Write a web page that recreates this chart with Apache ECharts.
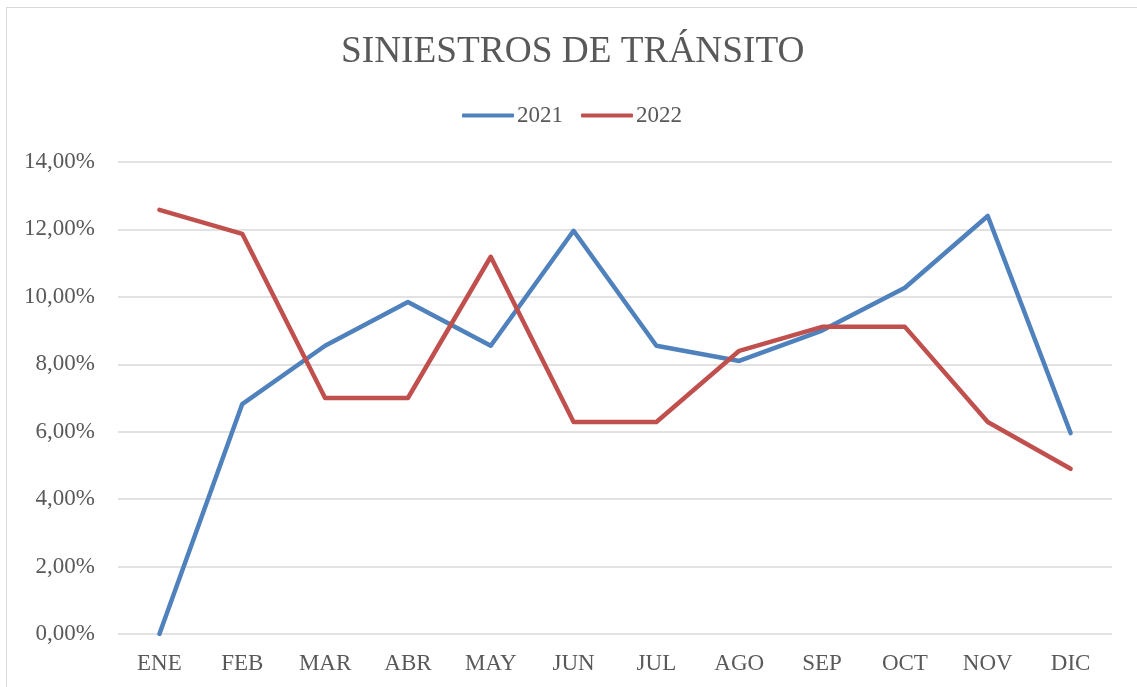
<!DOCTYPE html>
<html>
<head>
<meta charset="utf-8">
<script src="https://cdn.jsdelivr.net/npm/echarts@6/dist/echarts.min.js"></script>
<style>
  html, body { margin: 0; padding: 0; background: #fff; }
  #frame { position: absolute; left: 6px; top: 7px; width: 1140px; height: 690px; border: 1px solid #d9d9d9; box-sizing: border-box; }
  #chart { position: absolute; left: 0; top: 0; width: 1137px; height: 687px; }
</style>
</head>
<body>
<div id="frame"></div>
<div id="chart"></div>
<script>
// month labels
const months = ['ENE', 'FEB', 'MAR', 'ABR', 'MAY', 'JUN', 'JUL', 'AGO', 'SEP', 'OCT', 'NOV', 'DIC'];
// share of the yearly total, percent
const values2021 = [0.0, 6.82, 8.55, 9.85, 8.55, 11.96, 8.55, 8.1, 9.0, 10.27, 12.4, 5.96];
const values2022 = [12.58, 11.87, 7.0, 7.0, 11.19, 6.29, 6.29, 8.4, 9.11, 9.11, 6.29, 4.9];

const font = '"Liberation Serif", "Times New Roman", serif';
const textColor = '#595959';

const chart = echarts.init(document.getElementById('chart'));

const option = {
    animation: false,
    title: {
        text: 'SINIESTROS DE TRÁNSITO',
        left: 336,
        top: 29,
        textStyle: { fontFamily: font, fontSize: 37.3, fontWeight: 'normal', color: textColor }
    },
    legend: {
        top: 99,
        left: 457,
        itemWidth: 52,
        itemHeight: 4,
        itemGap: 18,
        icon: 'roundRect',
        textStyle: { fontFamily: font, fontSize: 23, color: textColor, padding: [0, 0, 0, -2] },
        data: ['2021', '2022']
    },
    grid: { left: 118, right: 25, top: 162, bottom: 53 },
    xAxis: {
        type: 'category',
        data: months,
        boundaryGap: true,
        axisLine: { show: false },
        axisTick: { show: false },
        axisLabel: { fontFamily: font, fontSize: 23, color: textColor, margin: 18 }
    },
    yAxis: {
        type: 'value',
        min: 0,
        max: 14,
        interval: 2,
        axisLine: { show: false },
        axisTick: { show: false },
        splitLine: { lineStyle: { color: '#d9d9d9', width: 1.5 } },
        axisLabel: {
            fontFamily: font, fontSize: 23, color: textColor, margin: 23,
            formatter: v => v.toFixed(2).replace('.', ',') + '%'
        }
    },
    series: [
        {
            name: '2021',
            type: 'line',
            data: values2021,
            symbol: 'none',
            lineStyle: { color: '#4f81bd', width: 4.5, cap: 'round', join: 'round' },
            itemStyle: { color: '#4f81bd' }
        },
        {
            name: '2022',
            type: 'line',
            data: values2022,
            symbol: 'none',
            lineStyle: { color: '#c0504d', width: 4.5, cap: 'round', join: 'round' },
            itemStyle: { color: '#c0504d' }
        }
    ]
};

chart.setOption(option);
</script>
</body>
</html>
